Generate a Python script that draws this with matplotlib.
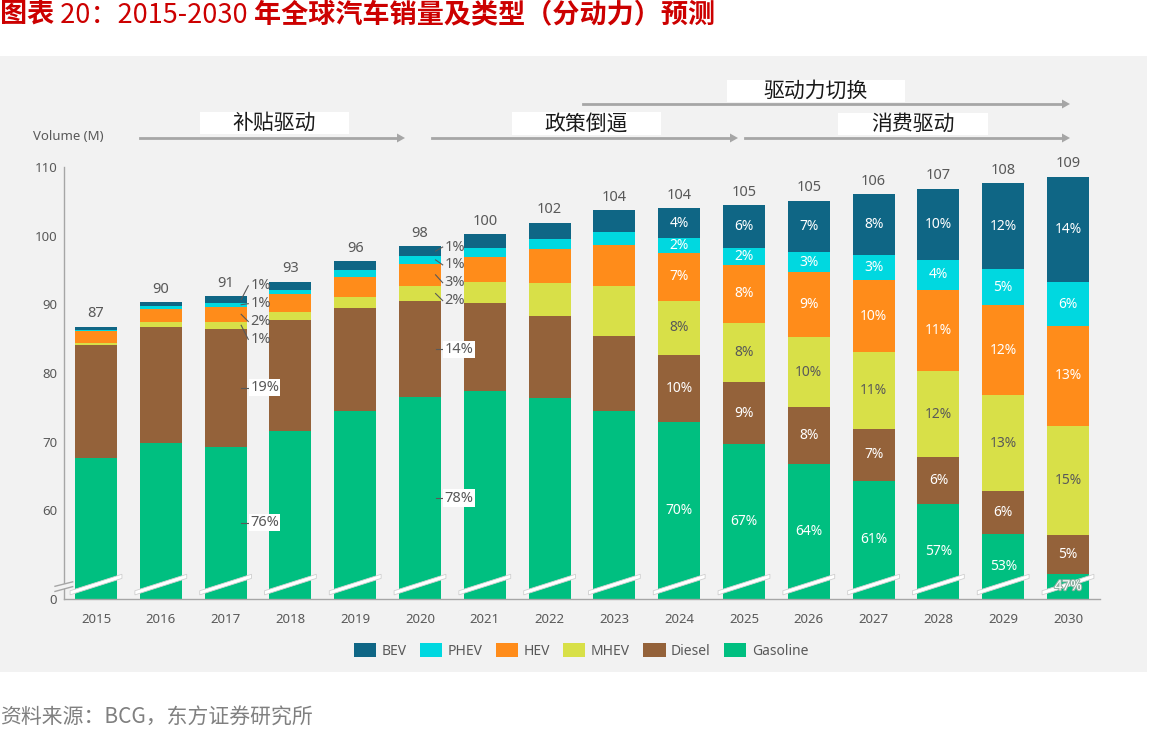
import matplotlib.pyplot as plt
from matplotlib.patches import Rectangle, Polygon, Patch
import matplotlib.patheffects as pe
import numpy as np

plt.rcParams['font.family'] = ['Noto Sans', 'Noto Sans CJK SC', 'DejaVu Sans']

# ---- data (million vehicles) ----
years = [str(y) for y in range(2015, 2031)]
totals = [87, 90, 91, 93, 96, 98, 100, 102, 104, 104, 105, 105, 106, 107, 108, 109]

gasoline = [67.7, 69.8, 69.3, 71.6, 74.5, 76.5, 77.4, 76.4, 74.5, 72.8, 69.6, 66.7, 64.3, 61.0, 56.5, 50.7]
diesel = [16.4, 16.9, 17.15, 16.1, 15.0, 13.95, 12.75, 11.9, 10.95, 9.85, 9.05, 8.3, 7.55, 6.8, 6.3, 5.7]
mhev = [0.3, 0.7, 1.0, 1.2, 1.55, 2.25, 3.1, 4.85, 7.2, 7.85, 8.7, 10.2, 11.2, 12.45, 13.95, 15.9]
hev = [1.7, 1.9, 2.2, 2.6, 2.95, 3.2, 3.7, 4.9, 6.0, 7.05, 8.35, 9.45, 10.45, 11.8, 13.1, 14.6]
phev = [0.1, 0.4, 0.6, 0.6, 1.05, 1.15, 1.3, 1.5, 1.85, 2.05, 2.55, 3.0, 3.65, 4.45, 5.25, 6.3]
bev = [0.5, 0.6, 0.9, 1.2, 1.25, 1.4, 1.95, 2.35, 3.2, 4.4, 6.2, 7.4, 8.85, 10.3, 12.55, 15.4]

# share labels printed inside the bars, 2024-2030
inside_years = ['2024', '2025', '2026', '2027', '2028', '2029', '2030']
gas_pct = ['70%', '67%', '64%', '61%', '57%', '53%', '47%']
diesel_pct = ['10%', '9%', '8%', '7%', '6%', '6%', '5%']
mhev_pct = ['8%', '8%', '10%', '11%', '12%', '13%', '15%']
hev_pct = ['7%', '8%', '9%', '10%', '11%', '12%', '13%']
phev_pct = ['2%', '2%', '3%', '3%', '4%', '5%', '6%']
bev_pct = ['4%', '6%', '7%', '8%', '10%', '12%', '14%']

# share labels printed beside the bars (gasoline, diesel, mhev, hev, phev, bev)
side_labels = {
    '2017': ['76%', '19%', '1%', '2%', '1%', '1%'],
    '2020': ['78%', '14%', '2%', '3%', '1%', '1%'],
}

y_ticks = [60, 70, 80, 90, 100, 110]

names = ['Gasoline', 'Diesel', 'MHEV', 'HEV', 'PHEV', 'BEV']
colors = ['#00bf80', '#94623a', '#d8e048', '#ff8c1a', '#00d8e0', '#0f6685']
stack = np.array([gasoline, diesel, mhev, hev, phev, bev])
inside = [gas_pct, diesel_pct, mhev_pct, hev_pct, phev_pct, bev_pct]

# ---- layout ----
W, H = 1157, 729
FLOOR = 47.1          # where "0" sits on the broken axis
GREY = '#595959'
AXC = '#a6a6a6'


def fx(px):
    return px / W


def fy(py):
    return 1 - py / H


fig = plt.figure(figsize=(W / 100, H / 100), dpi=100)
fig.add_artist(Rectangle((0, fy(672)), fx(1147), fy(56) - fy(672), transform=fig.transFigure,
                         facecolor='#f2f2f2', edgecolor='none', zorder=-2))

ax = fig.add_axes([fx(64), fy(599), fx(1100) - fx(64), fy(167) - fy(599)])
ax.set_facecolor('none')

x = np.arange(len(years))
tops = np.cumsum(stack, axis=0)
bottoms = np.vstack([np.full(len(years), FLOOR), tops[:-1]])
bw = 0.65
for k in range(len(names)):
    ax.bar(x, tops[k] - bottoms[k], bottom=bottoms[k], width=bw, color=colors[k],
           edgecolor='none', zorder=2)

# total labels
for i, t in enumerate(totals):
    ax.annotate(str(t), (x[i], tops[-1][i]), xytext=(0, 4), textcoords='offset points',
                ha='center', va='bottom', fontsize=10.5, color=GREY)

# inside share labels
for j, yr in enumerate(inside_years):
    i = years.index(yr)
    for k in range(len(names)):
        yc = (bottoms[k][i] + tops[k][i]) / 2
        c = GREY if names[k] == 'MHEV' else 'white'
        txt = ax.text(x[i], yc, inside[k][j], ha='center', va='center', fontsize=10, color=c, zorder=6)
        if yc < 51:  # label sits on the axis-break band
            txt.set_path_effects([pe.withStroke(linewidth=1.5, foreground='#8fb0a2')])

# side share labels with leader lines
for yr, labs in side_labels.items():
    i = years.index(yr)
    for k in (0, 1):
        yc = (bottoms[k][i] + tops[k][i]) / 2
        ax.plot([x[i] + 0.24, x[i] + 0.35], [yc, yc], color=GREY, lw=0.8, zorder=4)
        ax.text(x[i] + 0.38, yc, labs[k], ha='left', va='center', fontsize=10.5, color=GREY, zorder=5,
                bbox=dict(boxstyle='square,pad=0.08', facecolor='white', edgecolor='none'))
    mid = (bottoms[2][i] + tops[5][i]) / 2
    for n, k in enumerate([5, 4, 3, 2]):
        yc = (bottoms[k][i] + tops[k][i]) / 2
        ly = mid + (1.5 - n) * 2.6
        ax.plot([x[i] + 0.24, x[i] + 0.35], [yc, ly], color=GREY, lw=0.8, zorder=4)
        ax.text(x[i] + 0.38, ly, labs[k], ha='left', va='center', fontsize=10.5, color=GREY, zorder=5)

# axis break marks across bars
for i in x:
    band = Polygon([(i - 0.4, 47.7), (i + 0.4, 50.1), (i + 0.4, 50.7), (i - 0.4, 48.3)],
                   closed=True, facecolor='white', edgecolor='#cfcfcf', lw=0.6, zorder=3, clip_on=False)
    ax.add_patch(band)

# break mark on the y axis
ax.add_patch(Polygon([(-0.633, 48.2), (-0.36, 48.9), (-0.36, 49.6), (-0.633, 48.95)], closed=True,
                     facecolor='#f2f2f2', edgecolor='none', zorder=5, clip_on=False))
ax.plot([-0.633, -0.36], [48.2, 48.9], color=AXC, lw=1, zorder=6, clip_on=False)
ax.plot([-0.633, -0.36], [48.95, 49.6], color=AXC, lw=1, zorder=6, clip_on=False)

ax.set_xlim(-0.494, len(years) - 1 + 0.494)
ax.set_ylim(FLOOR, 110)
ax.set_xticks(x, years)
ax.set_yticks([FLOOR] + y_ticks, ['0'] + [str(v) for v in y_ticks])
ax.tick_params(length=0, labelsize=9.5, labelcolor=GREY)
ax.tick_params(axis='x', pad=10)
ax.tick_params(axis='y', pad=5)
for s in ['top', 'right']:
    ax.spines[s].set_visible(False)
for s in ['left', 'bottom']:
    ax.spines[s].set_color(AXC)
    ax.spines[s].set_linewidth(1)

fig.text(fx(33), fy(137), 'Volume (M)', ha='left', va='center', fontsize=9.5, color=GREY)

# legend
handles = [Patch(facecolor=colors[k], edgecolor='none') for k in range(5, -1, -1)]
fig.legend(handles, names[::-1], loc='center', bbox_to_anchor=(fx(581), fy(651)), ncol=6,
           frameon=False, fontsize=10, labelcolor=GREY, handlelength=1.6, handleheight=1.15,
           columnspacing=0.95, handletextpad=0.4)

# phase arrows and boxed captions
phases = [('补贴驱动', 140, 405, 138, (200, 112, 349, 134)),
          ('政策倒逼', 432, 738, 138, (512, 112, 661, 135)),
          ('消费驱动', 745, 1070, 138, (838, 113, 988, 135)),
          ('驱动力切换', 583, 1070, 104, (727, 80, 905, 102))]
for label, x0, x1, ya, (bx0, by0, bx1, by1) in phases:
    fig.add_artist(plt.Line2D([fx(x0), fx(x1 - 6)], [fy(ya), fy(ya)], color=AXC, lw=2,
                              transform=fig.transFigure))
    fig.add_artist(Polygon([(fx(x1 - 8), fy(ya - 4.5)), (fx(x1), fy(ya)), (fx(x1 - 8), fy(ya + 4.5))],
                           closed=True, facecolor=AXC, edgecolor='none', transform=fig.transFigure))
    fig.add_artist(Rectangle((fx(bx0), fy(by1)), fx(bx1) - fx(bx0), fy(by0) - fy(by1),
                             transform=fig.transFigure, facecolor='white', edgecolor='none'))
    fig.text(fx((bx0 + bx1) / 2), fy((by0 + by1) / 2), label, ha='center', va='center',
             fontsize=15, color='#1a1a1a', family=['Noto Sans CJK SC'])

# title, in three runs (bold / regular / bold)
RED = '#cc0000'
TS = 19.5
t1 = fig.text(0.0, fy(15), '图表', ha='left', va='center', fontsize=TS, color=RED,
              fontweight='bold', family=['Noto Sans CJK SC'])
a2 = fig.add_artist(plt.Annotation(' 20：2015-2030 ', xy=(1, 0), xycoords=t1, va='bottom',
                                   fontsize=TS, color=RED, family=['Noto Sans CJK SC']))
a3 = fig.add_artist(plt.Annotation('年全球汽车销量及类型（分动力）预测', xy=(1, 0), xycoords=a2, va='bottom',
                                   fontsize=TS, color=RED, fontweight='bold', family=['Noto Sans CJK SC']))

fig.text(0.0, fy(718), '资料来源：BCG，东方证券研究所', ha='left', va='center', fontsize=15,
         color='#808080', family=['Noto Sans CJK SC'])

fig.savefig('out.png', dpi=100)
